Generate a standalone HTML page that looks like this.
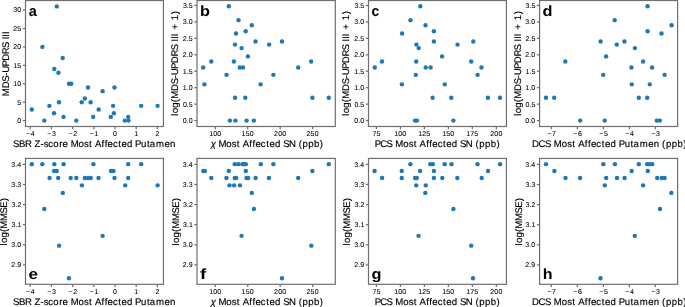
<!DOCTYPE html><html><head><meta charset="utf-8"><style>html,body{margin:0;padding:0;background:#fff;}svg{display:block;will-change:transform;}text{font-family:"Liberation Sans",sans-serif;text-rendering:geometricPrecision;}.tk{stroke:#000;stroke-width:0.08px;}.lb{stroke:#000;stroke-width:0.15px;}</style></head><body>
<svg width="685" height="307" viewBox="0 0 685 307">
<rect width="685" height="307" fill="#fff"/>
<g fill="#1f77b4">
<circle cx="56.80" cy="6.40" r="2.2"/>
<circle cx="42.40" cy="46.92" r="2.2"/>
<circle cx="62.70" cy="57.97" r="2.2"/>
<circle cx="54.30" cy="69.02" r="2.2"/>
<circle cx="58.40" cy="72.71" r="2.2"/>
<circle cx="69.00" cy="83.76" r="2.2"/>
<circle cx="71.20" cy="83.76" r="2.2"/>
<circle cx="88.00" cy="87.44" r="2.2"/>
<circle cx="114.50" cy="87.44" r="2.2"/>
<circle cx="102.60" cy="91.13" r="2.2"/>
<circle cx="84.90" cy="98.50" r="2.2"/>
<circle cx="59.00" cy="102.18" r="2.2"/>
<circle cx="81.70" cy="102.18" r="2.2"/>
<circle cx="90.60" cy="102.18" r="2.2"/>
<circle cx="49.40" cy="105.86" r="2.2"/>
<circle cx="113.10" cy="105.86" r="2.2"/>
<circle cx="141.20" cy="105.86" r="2.2"/>
<circle cx="157.60" cy="105.86" r="2.2"/>
<circle cx="31.80" cy="109.55" r="2.2"/>
<circle cx="98.70" cy="109.55" r="2.2"/>
<circle cx="54.00" cy="113.23" r="2.2"/>
<circle cx="113.90" cy="113.23" r="2.2"/>
<circle cx="63.50" cy="116.92" r="2.2"/>
<circle cx="93.20" cy="116.92" r="2.2"/>
<circle cx="110.80" cy="116.92" r="2.2"/>
<circle cx="128.20" cy="116.92" r="2.2"/>
<circle cx="44.30" cy="120.60" r="2.2"/>
<circle cx="76.30" cy="120.60" r="2.2"/>
<circle cx="124.80" cy="120.60" r="2.2"/>
<circle cx="128.50" cy="120.60" r="2.2"/>
<circle cx="228.80" cy="6.23" r="2.2"/>
<circle cx="238.50" cy="20.13" r="2.2"/>
<circle cx="251.80" cy="25.22" r="2.2"/>
<circle cx="245.70" cy="31.23" r="2.2"/>
<circle cx="236.00" cy="33.51" r="2.2"/>
<circle cx="255.50" cy="41.47" r="2.2"/>
<circle cx="282.00" cy="41.47" r="2.2"/>
<circle cx="235.00" cy="44.61" r="2.2"/>
<circle cx="269.10" cy="44.61" r="2.2"/>
<circle cx="241.60" cy="48.09" r="2.2"/>
<circle cx="247.90" cy="56.38" r="2.2"/>
<circle cx="211.30" cy="61.47" r="2.2"/>
<circle cx="233.90" cy="61.47" r="2.2"/>
<circle cx="311.10" cy="61.47" r="2.2"/>
<circle cx="203.20" cy="67.49" r="2.2"/>
<circle cx="239.80" cy="67.49" r="2.2"/>
<circle cx="243.00" cy="67.49" r="2.2"/>
<circle cx="298.20" cy="67.49" r="2.2"/>
<circle cx="226.50" cy="74.85" r="2.2"/>
<circle cx="273.40" cy="74.85" r="2.2"/>
<circle cx="204.40" cy="84.35" r="2.2"/>
<circle cx="260.60" cy="84.35" r="2.2"/>
<circle cx="235.10" cy="97.73" r="2.2"/>
<circle cx="245.30" cy="97.73" r="2.2"/>
<circle cx="312.40" cy="97.73" r="2.2"/>
<circle cx="328.80" cy="97.73" r="2.2"/>
<circle cx="229.90" cy="120.60" r="2.2"/>
<circle cx="235.40" cy="120.60" r="2.2"/>
<circle cx="246.60" cy="120.60" r="2.2"/>
<circle cx="253.90" cy="120.60" r="2.2"/>
<circle cx="420.30" cy="6.23" r="2.2"/>
<circle cx="410.50" cy="20.13" r="2.2"/>
<circle cx="425.50" cy="25.22" r="2.2"/>
<circle cx="433.90" cy="31.23" r="2.2"/>
<circle cx="402.10" cy="33.51" r="2.2"/>
<circle cx="433.90" cy="41.47" r="2.2"/>
<circle cx="473.30" cy="41.47" r="2.2"/>
<circle cx="416.40" cy="44.61" r="2.2"/>
<circle cx="457.50" cy="44.61" r="2.2"/>
<circle cx="418.70" cy="48.09" r="2.2"/>
<circle cx="442.10" cy="56.38" r="2.2"/>
<circle cx="382.00" cy="61.47" r="2.2"/>
<circle cx="416.20" cy="61.47" r="2.2"/>
<circle cx="471.20" cy="61.47" r="2.2"/>
<circle cx="374.80" cy="67.49" r="2.2"/>
<circle cx="425.70" cy="67.49" r="2.2"/>
<circle cx="430.60" cy="67.49" r="2.2"/>
<circle cx="481.50" cy="67.49" r="2.2"/>
<circle cx="415.80" cy="74.85" r="2.2"/>
<circle cx="477.60" cy="74.85" r="2.2"/>
<circle cx="401.90" cy="84.35" r="2.2"/>
<circle cx="444.80" cy="84.35" r="2.2"/>
<circle cx="432.60" cy="97.73" r="2.2"/>
<circle cx="451.30" cy="97.73" r="2.2"/>
<circle cx="487.90" cy="97.73" r="2.2"/>
<circle cx="500.00" cy="97.73" r="2.2"/>
<circle cx="415.10" cy="120.60" r="2.2"/>
<circle cx="416.90" cy="120.60" r="2.2"/>
<circle cx="453.40" cy="120.60" r="2.2"/>
<circle cx="647.60" cy="6.23" r="2.2"/>
<circle cx="614.70" cy="20.13" r="2.2"/>
<circle cx="671.60" cy="25.22" r="2.2"/>
<circle cx="647.60" cy="31.23" r="2.2"/>
<circle cx="661.50" cy="33.51" r="2.2"/>
<circle cx="600.60" cy="41.47" r="2.2"/>
<circle cx="624.40" cy="41.47" r="2.2"/>
<circle cx="616.80" cy="44.61" r="2.2"/>
<circle cx="634.90" cy="48.09" r="2.2"/>
<circle cx="606.10" cy="56.38" r="2.2"/>
<circle cx="565.30" cy="61.47" r="2.2"/>
<circle cx="643.10" cy="61.47" r="2.2"/>
<circle cx="631.40" cy="67.49" r="2.2"/>
<circle cx="652.10" cy="67.49" r="2.2"/>
<circle cx="603.20" cy="74.85" r="2.2"/>
<circle cx="664.60" cy="74.85" r="2.2"/>
<circle cx="631.80" cy="84.35" r="2.2"/>
<circle cx="649.80" cy="84.35" r="2.2"/>
<circle cx="546.00" cy="97.73" r="2.2"/>
<circle cx="554.20" cy="97.73" r="2.2"/>
<circle cx="638.80" cy="97.73" r="2.2"/>
<circle cx="647.20" cy="97.73" r="2.2"/>
<circle cx="580.20" cy="120.60" r="2.2"/>
<circle cx="604.70" cy="120.60" r="2.2"/>
<circle cx="656.80" cy="120.60" r="2.2"/>
<circle cx="659.90" cy="120.60" r="2.2"/>
<circle cx="31.80" cy="164.16" r="2.2"/>
<circle cx="42.30" cy="164.16" r="2.2"/>
<circle cx="54.30" cy="164.16" r="2.2"/>
<circle cx="63.60" cy="164.16" r="2.2"/>
<circle cx="93.40" cy="164.16" r="2.2"/>
<circle cx="128.20" cy="164.16" r="2.2"/>
<circle cx="141.20" cy="164.16" r="2.2"/>
<circle cx="54.10" cy="170.97" r="2.2"/>
<circle cx="56.70" cy="170.97" r="2.2"/>
<circle cx="111.00" cy="170.97" r="2.2"/>
<circle cx="113.50" cy="170.97" r="2.2"/>
<circle cx="49.60" cy="178.03" r="2.2"/>
<circle cx="58.20" cy="178.03" r="2.2"/>
<circle cx="70.70" cy="178.03" r="2.2"/>
<circle cx="76.30" cy="178.03" r="2.2"/>
<circle cx="84.80" cy="178.03" r="2.2"/>
<circle cx="88.00" cy="178.03" r="2.2"/>
<circle cx="90.80" cy="178.03" r="2.2"/>
<circle cx="98.50" cy="178.03" r="2.2"/>
<circle cx="114.50" cy="178.03" r="2.2"/>
<circle cx="128.20" cy="178.03" r="2.2"/>
<circle cx="81.90" cy="185.34" r="2.2"/>
<circle cx="125.20" cy="185.34" r="2.2"/>
<circle cx="157.60" cy="185.34" r="2.2"/>
<circle cx="62.80" cy="192.92" r="2.2"/>
<circle cx="44.30" cy="209.01" r="2.2"/>
<circle cx="102.60" cy="235.85" r="2.2"/>
<circle cx="59.10" cy="245.66" r="2.2"/>
<circle cx="68.90" cy="278.32" r="2.2"/>
<circle cx="234.75" cy="164.16" r="2.2"/>
<circle cx="238.30" cy="164.16" r="2.2"/>
<circle cx="242.40" cy="164.16" r="2.2"/>
<circle cx="244.00" cy="164.16" r="2.2"/>
<circle cx="245.80" cy="164.16" r="2.2"/>
<circle cx="260.80" cy="164.16" r="2.2"/>
<circle cx="273.40" cy="164.16" r="2.2"/>
<circle cx="328.80" cy="164.16" r="2.2"/>
<circle cx="203.30" cy="170.97" r="2.2"/>
<circle cx="204.90" cy="170.97" r="2.2"/>
<circle cx="228.80" cy="170.97" r="2.2"/>
<circle cx="245.80" cy="170.97" r="2.2"/>
<circle cx="312.40" cy="170.97" r="2.2"/>
<circle cx="211.30" cy="178.03" r="2.2"/>
<circle cx="226.40" cy="178.03" r="2.2"/>
<circle cx="234.75" cy="178.03" r="2.2"/>
<circle cx="236.10" cy="178.03" r="2.2"/>
<circle cx="246.50" cy="178.03" r="2.2"/>
<circle cx="248.10" cy="178.03" r="2.2"/>
<circle cx="255.60" cy="178.03" r="2.2"/>
<circle cx="268.90" cy="178.03" r="2.2"/>
<circle cx="298.20" cy="178.03" r="2.2"/>
<circle cx="229.50" cy="185.34" r="2.2"/>
<circle cx="234.10" cy="185.34" r="2.2"/>
<circle cx="240.00" cy="185.34" r="2.2"/>
<circle cx="251.80" cy="192.92" r="2.2"/>
<circle cx="253.90" cy="209.01" r="2.2"/>
<circle cx="241.60" cy="235.85" r="2.2"/>
<circle cx="311.30" cy="245.66" r="2.2"/>
<circle cx="282.00" cy="278.32" r="2.2"/>
<circle cx="410.40" cy="164.16" r="2.2"/>
<circle cx="430.30" cy="164.16" r="2.2"/>
<circle cx="432.80" cy="164.16" r="2.2"/>
<circle cx="444.70" cy="164.16" r="2.2"/>
<circle cx="451.50" cy="164.16" r="2.2"/>
<circle cx="477.50" cy="164.16" r="2.2"/>
<circle cx="500.10" cy="164.16" r="2.2"/>
<circle cx="374.60" cy="170.97" r="2.2"/>
<circle cx="401.75" cy="170.97" r="2.2"/>
<circle cx="420.10" cy="170.97" r="2.2"/>
<circle cx="433.90" cy="170.97" r="2.2"/>
<circle cx="488.00" cy="170.97" r="2.2"/>
<circle cx="382.10" cy="178.03" r="2.2"/>
<circle cx="401.75" cy="178.03" r="2.2"/>
<circle cx="415.10" cy="178.03" r="2.2"/>
<circle cx="416.75" cy="178.03" r="2.2"/>
<circle cx="433.90" cy="178.03" r="2.2"/>
<circle cx="442.30" cy="178.03" r="2.2"/>
<circle cx="457.30" cy="178.03" r="2.2"/>
<circle cx="481.70" cy="178.03" r="2.2"/>
<circle cx="416.20" cy="185.34" r="2.2"/>
<circle cx="425.80" cy="185.34" r="2.2"/>
<circle cx="425.30" cy="192.92" r="2.2"/>
<circle cx="453.40" cy="209.01" r="2.2"/>
<circle cx="418.50" cy="235.85" r="2.2"/>
<circle cx="471.20" cy="245.66" r="2.2"/>
<circle cx="473.00" cy="278.32" r="2.2"/>
<circle cx="546.00" cy="164.16" r="2.2"/>
<circle cx="603.30" cy="164.16" r="2.2"/>
<circle cx="614.90" cy="164.16" r="2.2"/>
<circle cx="638.80" cy="164.16" r="2.2"/>
<circle cx="647.20" cy="164.16" r="2.2"/>
<circle cx="649.60" cy="164.16" r="2.2"/>
<circle cx="652.20" cy="164.16" r="2.2"/>
<circle cx="554.40" cy="170.97" r="2.2"/>
<circle cx="631.70" cy="170.97" r="2.2"/>
<circle cx="647.80" cy="170.97" r="2.2"/>
<circle cx="565.50" cy="178.03" r="2.2"/>
<circle cx="580.10" cy="178.03" r="2.2"/>
<circle cx="606.20" cy="178.03" r="2.2"/>
<circle cx="617.00" cy="178.03" r="2.2"/>
<circle cx="624.60" cy="178.03" r="2.2"/>
<circle cx="657.20" cy="178.03" r="2.2"/>
<circle cx="661.70" cy="178.03" r="2.2"/>
<circle cx="664.60" cy="178.03" r="2.2"/>
<circle cx="604.80" cy="185.34" r="2.2"/>
<circle cx="643.10" cy="185.34" r="2.2"/>
<circle cx="671.30" cy="192.92" r="2.2"/>
<circle cx="660.00" cy="209.01" r="2.2"/>
<circle cx="634.80" cy="235.85" r="2.2"/>
<circle cx="600.50" cy="278.32" r="2.2"/>
</g>
<rect x="25.5" y="0.5" width="137.95" height="126.00" fill="none" stroke="#6e6e6e" stroke-width="1.2"/>
<line x1="30.20" y1="126.5" x2="30.20" y2="129.2" stroke="#6e6e6e" stroke-width="1.2"/>
<text x="25.99 30.74" y="135.90" font-size="7.0" class="tk">−4</text>
<line x1="51.40" y1="126.5" x2="51.40" y2="129.2" stroke="#6e6e6e" stroke-width="1.2"/>
<text x="47.27 52.02" y="135.90" font-size="7.0" class="tk">−3</text>
<line x1="72.60" y1="126.5" x2="72.60" y2="129.2" stroke="#6e6e6e" stroke-width="1.2"/>
<text x="68.53 73.19" y="135.90" font-size="7.0" class="tk">−2</text>
<line x1="93.80" y1="126.5" x2="93.80" y2="129.2" stroke="#6e6e6e" stroke-width="1.2"/>
<text x="89.71 94.41" y="135.90" font-size="7.0" class="tk">−1</text>
<line x1="115.00" y1="126.5" x2="115.00" y2="129.2" stroke="#6e6e6e" stroke-width="1.2"/>
<text x="113.05" y="135.90" font-size="7.0" class="tk">0</text>
<line x1="136.20" y1="126.5" x2="136.20" y2="129.2" stroke="#6e6e6e" stroke-width="1.2"/>
<text x="134.16" y="135.90" font-size="7.0" class="tk">1</text>
<line x1="157.40" y1="126.5" x2="157.40" y2="129.2" stroke="#6e6e6e" stroke-width="1.2"/>
<text x="155.45" y="135.90" font-size="7.0" class="tk">2</text>
<line x1="22.8" y1="120.60" x2="25.5" y2="120.60" stroke="#6e6e6e" stroke-width="1.2"/>
<text x="17.27" y="123.01" font-size="7.0" class="tk">0</text>
<line x1="22.8" y1="102.18" x2="25.5" y2="102.18" stroke="#6e6e6e" stroke-width="1.2"/>
<text x="17.37" y="104.59" font-size="7.0" class="tk">5</text>
<line x1="22.8" y1="83.76" x2="25.5" y2="83.76" stroke="#6e6e6e" stroke-width="1.2"/>
<text x="13.22 17.27" y="86.17" font-size="7.0" class="tk">10</text>
<line x1="22.8" y1="65.34" x2="25.5" y2="65.34" stroke="#6e6e6e" stroke-width="1.2"/>
<text x="13.35 17.37" y="67.75" font-size="7.0" class="tk">15</text>
<line x1="22.8" y1="46.92" x2="25.5" y2="46.92" stroke="#6e6e6e" stroke-width="1.2"/>
<text x="13.17 17.27" y="49.33" font-size="7.0" class="tk">20</text>
<line x1="22.8" y1="28.50" x2="25.5" y2="28.50" stroke="#6e6e6e" stroke-width="1.2"/>
<text x="13.31 17.37" y="30.91" font-size="7.0" class="tk">25</text>
<line x1="22.8" y1="10.08" x2="25.5" y2="10.08" stroke="#6e6e6e" stroke-width="1.2"/>
<text x="13.27 17.27" y="12.49" font-size="7.0" class="tk">30</text>
<text x="13.10 18.95 25.03 31.56 34.45 40.47 43.68 48.30 53.35 59.17 62.54 68.04 70.67 78.60 84.00 89.07 92.28 94.89 101.52 104.67 107.57 112.94 118.30 121.52 127.05 132.71 135.11 141.02 146.94 149.79 155.93 164.38 169.97" y="146.60" font-size="9.6" class="lb">SBR Z-score Most Affected Putamen</text>
<text transform="translate(29.10,16.30) scale(0.988,1)" x="-0.43" y="0" font-size="14.7" font-weight="bold">a</text>
<rect x="197.0" y="0.5" width="138.30" height="126.00" fill="none" stroke="#6e6e6e" stroke-width="1.2"/>
<line x1="215.30" y1="126.5" x2="215.30" y2="129.2" stroke="#6e6e6e" stroke-width="1.2"/>
<text x="209.17 213.22 217.22" y="135.90" font-size="7.0" class="tk">100</text>
<line x1="247.74" y1="126.5" x2="247.74" y2="129.2" stroke="#6e6e6e" stroke-width="1.2"/>
<text x="241.60 245.63 249.66" y="135.90" font-size="7.0" class="tk">150</text>
<line x1="280.17" y1="126.5" x2="280.17" y2="129.2" stroke="#6e6e6e" stroke-width="1.2"/>
<text x="274.11 278.20 282.21" y="135.90" font-size="7.0" class="tk">200</text>
<line x1="312.61" y1="126.5" x2="312.61" y2="129.2" stroke="#6e6e6e" stroke-width="1.2"/>
<text x="306.54 310.61 314.64" y="135.90" font-size="7.0" class="tk">250</text>
<line x1="194.3" y1="120.60" x2="197.0" y2="120.60" stroke="#6e6e6e" stroke-width="1.2"/>
<text x="182.76 186.73 188.77" y="123.01" font-size="7.0" class="tk">0.0</text>
<line x1="194.3" y1="104.15" x2="197.0" y2="104.15" stroke="#6e6e6e" stroke-width="1.2"/>
<text x="182.89 186.87 188.87" y="106.56" font-size="7.0" class="tk">0.5</text>
<line x1="194.3" y1="87.70" x2="197.0" y2="87.70" stroke="#6e6e6e" stroke-width="1.2"/>
<text x="182.72 186.73 188.77" y="90.11" font-size="7.0" class="tk">1.0</text>
<line x1="194.3" y1="71.25" x2="197.0" y2="71.25" stroke="#6e6e6e" stroke-width="1.2"/>
<text x="182.85 186.87 188.87" y="73.66" font-size="7.0" class="tk">1.5</text>
<line x1="194.3" y1="54.80" x2="197.0" y2="54.80" stroke="#6e6e6e" stroke-width="1.2"/>
<text x="182.67 186.73 188.77" y="57.21" font-size="7.0" class="tk">2.0</text>
<line x1="194.3" y1="38.35" x2="197.0" y2="38.35" stroke="#6e6e6e" stroke-width="1.2"/>
<text x="182.80 186.87 188.87" y="40.76" font-size="7.0" class="tk">2.5</text>
<line x1="194.3" y1="21.90" x2="197.0" y2="21.90" stroke="#6e6e6e" stroke-width="1.2"/>
<text x="182.77 186.73 188.77" y="24.31" font-size="7.0" class="tk">3.0</text>
<line x1="194.3" y1="5.45" x2="197.0" y2="5.45" stroke="#6e6e6e" stroke-width="1.2"/>
<text x="182.90 186.87 188.87" y="7.86" font-size="7.0" class="tk">3.5</text>
<text x="210.70 215.73 218.38 226.34 231.77 236.85 240.07 242.71 249.35 252.52 255.43 260.82 266.20 269.44 274.99 280.66 283.13 289.03 295.96 298.64 302.47 308.18 313.89 319.76" y="146.60" font-size="9.6" class="lb"><tspan font-style="italic">χ</tspan> Most Affected SN (ppb)</text>
<text transform="translate(201.18,16.30) scale(1.109,1)" x="-0.97" y="0" font-size="14.7" font-weight="bold">b</text>
<rect x="368.5" y="0.5" width="137.95" height="126.00" fill="none" stroke="#6e6e6e" stroke-width="1.2"/>
<line x1="376.40" y1="126.5" x2="376.40" y2="129.2" stroke="#6e6e6e" stroke-width="1.2"/>
<text x="372.45 376.45" y="135.90" font-size="7.0" class="tk">75</text>
<line x1="400.39" y1="126.5" x2="400.39" y2="129.2" stroke="#6e6e6e" stroke-width="1.2"/>
<text x="394.26 398.30 402.31" y="135.90" font-size="7.0" class="tk">100</text>
<line x1="424.38" y1="126.5" x2="424.38" y2="129.2" stroke="#6e6e6e" stroke-width="1.2"/>
<text x="418.31 422.27 426.34" y="135.90" font-size="7.0" class="tk">125</text>
<line x1="448.36" y1="126.5" x2="448.36" y2="129.2" stroke="#6e6e6e" stroke-width="1.2"/>
<text x="442.23 446.25 450.29" y="135.90" font-size="7.0" class="tk">150</text>
<line x1="472.35" y1="126.5" x2="472.35" y2="129.2" stroke="#6e6e6e" stroke-width="1.2"/>
<text x="466.28 470.32 474.32" y="135.90" font-size="7.0" class="tk">175</text>
<line x1="496.34" y1="126.5" x2="496.34" y2="129.2" stroke="#6e6e6e" stroke-width="1.2"/>
<text x="490.28 494.37 498.38" y="135.90" font-size="7.0" class="tk">200</text>
<line x1="365.8" y1="120.60" x2="368.5" y2="120.60" stroke="#6e6e6e" stroke-width="1.2"/>
<text x="354.26 358.23 360.27" y="123.01" font-size="7.0" class="tk">0.0</text>
<line x1="365.8" y1="104.15" x2="368.5" y2="104.15" stroke="#6e6e6e" stroke-width="1.2"/>
<text x="354.39 358.37 360.37" y="106.56" font-size="7.0" class="tk">0.5</text>
<line x1="365.8" y1="87.70" x2="368.5" y2="87.70" stroke="#6e6e6e" stroke-width="1.2"/>
<text x="354.22 358.23 360.27" y="90.11" font-size="7.0" class="tk">1.0</text>
<line x1="365.8" y1="71.25" x2="368.5" y2="71.25" stroke="#6e6e6e" stroke-width="1.2"/>
<text x="354.35 358.37 360.37" y="73.66" font-size="7.0" class="tk">1.5</text>
<line x1="365.8" y1="54.80" x2="368.5" y2="54.80" stroke="#6e6e6e" stroke-width="1.2"/>
<text x="354.17 358.23 360.27" y="57.21" font-size="7.0" class="tk">2.0</text>
<line x1="365.8" y1="38.35" x2="368.5" y2="38.35" stroke="#6e6e6e" stroke-width="1.2"/>
<text x="354.30 358.37 360.37" y="40.76" font-size="7.0" class="tk">2.5</text>
<line x1="365.8" y1="21.90" x2="368.5" y2="21.90" stroke="#6e6e6e" stroke-width="1.2"/>
<text x="354.27 358.23 360.27" y="24.31" font-size="7.0" class="tk">3.0</text>
<line x1="365.8" y1="5.45" x2="368.5" y2="5.45" stroke="#6e6e6e" stroke-width="1.2"/>
<text x="354.40 358.37 360.37" y="7.86" font-size="7.0" class="tk">3.5</text>
<text x="374.77 380.16 386.51 392.61 395.26 403.21 408.64 413.72 416.93 419.56 426.20 429.37 432.28 437.66 443.05 446.28 451.83 457.50 459.96 465.86 472.78 475.46 479.29 484.99 490.70 496.56" y="146.60" font-size="9.6" class="lb">PCS Most Affected SN (ppb)</text>
<text transform="translate(372.10,16.30) scale(0.943,1)" x="-0.57" y="0" font-size="14.7" font-weight="bold">c</text>
<rect x="539.6" y="0.5" width="138.00" height="126.00" fill="none" stroke="#6e6e6e" stroke-width="1.2"/>
<line x1="551.40" y1="126.5" x2="551.40" y2="129.2" stroke="#6e6e6e" stroke-width="1.2"/>
<text x="547.29 552.01" y="135.90" font-size="7.0" class="tk">−7</text>
<line x1="577.40" y1="126.5" x2="577.40" y2="129.2" stroke="#6e6e6e" stroke-width="1.2"/>
<text x="573.21 577.96" y="135.90" font-size="7.0" class="tk">−6</text>
<line x1="603.40" y1="126.5" x2="603.40" y2="129.2" stroke="#6e6e6e" stroke-width="1.2"/>
<text x="599.29 604.01" y="135.90" font-size="7.0" class="tk">−5</text>
<line x1="629.40" y1="126.5" x2="629.40" y2="129.2" stroke="#6e6e6e" stroke-width="1.2"/>
<text x="625.19 629.94" y="135.90" font-size="7.0" class="tk">−4</text>
<line x1="655.40" y1="126.5" x2="655.40" y2="129.2" stroke="#6e6e6e" stroke-width="1.2"/>
<text x="651.27 656.02" y="135.90" font-size="7.0" class="tk">−3</text>
<line x1="536.9" y1="120.60" x2="539.6" y2="120.60" stroke="#6e6e6e" stroke-width="1.2"/>
<text x="525.36 529.33 531.37" y="123.01" font-size="7.0" class="tk">0.0</text>
<line x1="536.9" y1="104.15" x2="539.6" y2="104.15" stroke="#6e6e6e" stroke-width="1.2"/>
<text x="525.49 529.47 531.47" y="106.56" font-size="7.0" class="tk">0.5</text>
<line x1="536.9" y1="87.70" x2="539.6" y2="87.70" stroke="#6e6e6e" stroke-width="1.2"/>
<text x="525.32 529.33 531.37" y="90.11" font-size="7.0" class="tk">1.0</text>
<line x1="536.9" y1="71.25" x2="539.6" y2="71.25" stroke="#6e6e6e" stroke-width="1.2"/>
<text x="525.45 529.47 531.47" y="73.66" font-size="7.0" class="tk">1.5</text>
<line x1="536.9" y1="54.80" x2="539.6" y2="54.80" stroke="#6e6e6e" stroke-width="1.2"/>
<text x="525.27 529.33 531.37" y="57.21" font-size="7.0" class="tk">2.0</text>
<line x1="536.9" y1="38.35" x2="539.6" y2="38.35" stroke="#6e6e6e" stroke-width="1.2"/>
<text x="525.40 529.47 531.47" y="40.76" font-size="7.0" class="tk">2.5</text>
<line x1="536.9" y1="21.90" x2="539.6" y2="21.90" stroke="#6e6e6e" stroke-width="1.2"/>
<text x="525.37 529.33 531.37" y="24.31" font-size="7.0" class="tk">3.0</text>
<line x1="536.9" y1="5.45" x2="539.6" y2="5.45" stroke="#6e6e6e" stroke-width="1.2"/>
<text x="525.50 529.47 531.47" y="7.86" font-size="7.0" class="tk">3.5</text>
<text x="532.03 538.60 544.98 551.10 553.76 561.75 567.19 572.29 575.52 578.17 584.83 588.01 590.94 596.34 601.74 604.99 610.56 616.25 618.69 624.63 630.59 633.47 639.67 648.17 653.81 659.42 662.10 665.96 671.69 677.41 683.30" y="146.60" font-size="9.6" class="lb">DCS Most Affected Putamen (ppb)</text>
<text transform="translate(543.23,16.30) scale(1.109,1)" x="-0.60" y="0" font-size="14.7" font-weight="bold">d</text>
<rect x="25.5" y="158.45" width="137.95" height="125.85" fill="none" stroke="#6e6e6e" stroke-width="1.2"/>
<line x1="30.20" y1="284.3" x2="30.20" y2="287.0" stroke="#6e6e6e" stroke-width="1.2"/>
<text x="25.99 30.74" y="293.85" font-size="7.0" class="tk">−4</text>
<line x1="51.40" y1="284.3" x2="51.40" y2="287.0" stroke="#6e6e6e" stroke-width="1.2"/>
<text x="47.27 52.02" y="293.85" font-size="7.0" class="tk">−3</text>
<line x1="72.60" y1="284.3" x2="72.60" y2="287.0" stroke="#6e6e6e" stroke-width="1.2"/>
<text x="68.53 73.19" y="293.85" font-size="7.0" class="tk">−2</text>
<line x1="93.80" y1="284.3" x2="93.80" y2="287.0" stroke="#6e6e6e" stroke-width="1.2"/>
<text x="89.71 94.41" y="293.85" font-size="7.0" class="tk">−1</text>
<line x1="115.00" y1="284.3" x2="115.00" y2="287.0" stroke="#6e6e6e" stroke-width="1.2"/>
<text x="113.05" y="293.85" font-size="7.0" class="tk">0</text>
<line x1="136.20" y1="284.3" x2="136.20" y2="287.0" stroke="#6e6e6e" stroke-width="1.2"/>
<text x="134.16" y="293.85" font-size="7.0" class="tk">1</text>
<line x1="157.40" y1="284.3" x2="157.40" y2="287.0" stroke="#6e6e6e" stroke-width="1.2"/>
<text x="155.45" y="293.85" font-size="7.0" class="tk">2</text>
<line x1="22.8" y1="264.90" x2="25.5" y2="264.90" stroke="#6e6e6e" stroke-width="1.2"/>
<text x="11.20 15.26 17.27" y="267.31" font-size="7.0" class="tk">2.9</text>
<line x1="22.8" y1="244.80" x2="25.5" y2="244.80" stroke="#6e6e6e" stroke-width="1.2"/>
<text x="11.27 15.23 17.27" y="247.21" font-size="7.0" class="tk">3.0</text>
<line x1="22.8" y1="224.70" x2="25.5" y2="224.70" stroke="#6e6e6e" stroke-width="1.2"/>
<text x="11.43 15.40 17.39" y="227.11" font-size="7.0" class="tk">3.1</text>
<line x1="22.8" y1="204.60" x2="25.5" y2="204.60" stroke="#6e6e6e" stroke-width="1.2"/>
<text x="11.48 15.45 17.40" y="207.01" font-size="7.0" class="tk">3.2</text>
<line x1="22.8" y1="184.50" x2="25.5" y2="184.50" stroke="#6e6e6e" stroke-width="1.2"/>
<text x="11.35 15.32 17.36" y="186.91" font-size="7.0" class="tk">3.3</text>
<line x1="22.8" y1="164.40" x2="25.5" y2="164.40" stroke="#6e6e6e" stroke-width="1.2"/>
<text x="11.20 15.17 17.20" y="166.81" font-size="7.0" class="tk">3.4</text>
<text x="13.10 18.95 25.03 31.56 34.45 40.47 43.68 48.30 53.35 59.17 62.54 68.04 70.67 78.60 84.00 89.07 92.28 94.89 101.52 104.67 107.57 112.94 118.30 121.52 127.05 132.71 135.11 141.02 146.94 149.79 155.93 164.38 169.97" y="304.60" font-size="9.6" class="lb">SBR Z-score Most Affected Putamen</text>
<text transform="translate(29.10,278.70) scale(1.158,1)" x="-0.57" y="0" font-size="14.7" font-weight="bold">e</text>
<rect x="197.0" y="158.45" width="138.30" height="125.85" fill="none" stroke="#6e6e6e" stroke-width="1.2"/>
<line x1="215.30" y1="284.3" x2="215.30" y2="287.0" stroke="#6e6e6e" stroke-width="1.2"/>
<text x="209.17 213.22 217.22" y="293.85" font-size="7.0" class="tk">100</text>
<line x1="247.74" y1="284.3" x2="247.74" y2="287.0" stroke="#6e6e6e" stroke-width="1.2"/>
<text x="241.60 245.63 249.66" y="293.85" font-size="7.0" class="tk">150</text>
<line x1="280.17" y1="284.3" x2="280.17" y2="287.0" stroke="#6e6e6e" stroke-width="1.2"/>
<text x="274.11 278.20 282.21" y="293.85" font-size="7.0" class="tk">200</text>
<line x1="312.61" y1="284.3" x2="312.61" y2="287.0" stroke="#6e6e6e" stroke-width="1.2"/>
<text x="306.54 310.61 314.64" y="293.85" font-size="7.0" class="tk">250</text>
<line x1="194.3" y1="264.90" x2="197.0" y2="264.90" stroke="#6e6e6e" stroke-width="1.2"/>
<text x="182.70 186.76 188.77" y="267.31" font-size="7.0" class="tk">2.9</text>
<line x1="194.3" y1="244.80" x2="197.0" y2="244.80" stroke="#6e6e6e" stroke-width="1.2"/>
<text x="182.77 186.73 188.77" y="247.21" font-size="7.0" class="tk">3.0</text>
<line x1="194.3" y1="224.70" x2="197.0" y2="224.70" stroke="#6e6e6e" stroke-width="1.2"/>
<text x="182.93 186.90 188.89" y="227.11" font-size="7.0" class="tk">3.1</text>
<line x1="194.3" y1="204.60" x2="197.0" y2="204.60" stroke="#6e6e6e" stroke-width="1.2"/>
<text x="182.98 186.95 188.90" y="207.01" font-size="7.0" class="tk">3.2</text>
<line x1="194.3" y1="184.50" x2="197.0" y2="184.50" stroke="#6e6e6e" stroke-width="1.2"/>
<text x="182.85 186.82 188.86" y="186.91" font-size="7.0" class="tk">3.3</text>
<line x1="194.3" y1="164.40" x2="197.0" y2="164.40" stroke="#6e6e6e" stroke-width="1.2"/>
<text x="182.70 186.67 188.70" y="166.81" font-size="7.0" class="tk">3.4</text>
<text x="210.70 215.73 218.38 226.34 231.77 236.85 240.07 242.71 249.35 252.52 255.43 260.82 266.20 269.44 274.99 280.66 283.13 289.03 295.96 298.64 302.47 308.18 313.89 319.76" y="304.60" font-size="9.6" class="lb"><tspan font-style="italic">χ</tspan> Most Affected SN (ppb)</text>
<text transform="translate(200.27,278.70) scale(1.273,1)" x="-0.25" y="0" font-size="14.7" font-weight="bold">f</text>
<rect x="368.5" y="158.45" width="137.95" height="125.85" fill="none" stroke="#6e6e6e" stroke-width="1.2"/>
<line x1="376.40" y1="284.3" x2="376.40" y2="287.0" stroke="#6e6e6e" stroke-width="1.2"/>
<text x="372.45 376.45" y="293.85" font-size="7.0" class="tk">75</text>
<line x1="400.39" y1="284.3" x2="400.39" y2="287.0" stroke="#6e6e6e" stroke-width="1.2"/>
<text x="394.26 398.30 402.31" y="293.85" font-size="7.0" class="tk">100</text>
<line x1="424.38" y1="284.3" x2="424.38" y2="287.0" stroke="#6e6e6e" stroke-width="1.2"/>
<text x="418.31 422.27 426.34" y="293.85" font-size="7.0" class="tk">125</text>
<line x1="448.36" y1="284.3" x2="448.36" y2="287.0" stroke="#6e6e6e" stroke-width="1.2"/>
<text x="442.23 446.25 450.29" y="293.85" font-size="7.0" class="tk">150</text>
<line x1="472.35" y1="284.3" x2="472.35" y2="287.0" stroke="#6e6e6e" stroke-width="1.2"/>
<text x="466.28 470.32 474.32" y="293.85" font-size="7.0" class="tk">175</text>
<line x1="496.34" y1="284.3" x2="496.34" y2="287.0" stroke="#6e6e6e" stroke-width="1.2"/>
<text x="490.28 494.37 498.38" y="293.85" font-size="7.0" class="tk">200</text>
<line x1="365.8" y1="264.90" x2="368.5" y2="264.90" stroke="#6e6e6e" stroke-width="1.2"/>
<text x="354.20 358.26 360.27" y="267.31" font-size="7.0" class="tk">2.9</text>
<line x1="365.8" y1="244.80" x2="368.5" y2="244.80" stroke="#6e6e6e" stroke-width="1.2"/>
<text x="354.27 358.23 360.27" y="247.21" font-size="7.0" class="tk">3.0</text>
<line x1="365.8" y1="224.70" x2="368.5" y2="224.70" stroke="#6e6e6e" stroke-width="1.2"/>
<text x="354.43 358.40 360.39" y="227.11" font-size="7.0" class="tk">3.1</text>
<line x1="365.8" y1="204.60" x2="368.5" y2="204.60" stroke="#6e6e6e" stroke-width="1.2"/>
<text x="354.48 358.45 360.40" y="207.01" font-size="7.0" class="tk">3.2</text>
<line x1="365.8" y1="184.50" x2="368.5" y2="184.50" stroke="#6e6e6e" stroke-width="1.2"/>
<text x="354.35 358.32 360.36" y="186.91" font-size="7.0" class="tk">3.3</text>
<line x1="365.8" y1="164.40" x2="368.5" y2="164.40" stroke="#6e6e6e" stroke-width="1.2"/>
<text x="354.20 358.17 360.20" y="166.81" font-size="7.0" class="tk">3.4</text>
<text x="374.77 380.16 386.51 392.61 395.26 403.21 408.64 413.72 416.93 419.56 426.20 429.37 432.28 437.66 443.05 446.28 451.83 457.50 459.96 465.86 472.78 475.46 479.29 484.99 490.70 496.56" y="304.60" font-size="9.6" class="lb">PCS Most Affected SN (ppb)</text>
<text transform="translate(372.13,278.70) scale(1.112,1)" x="-0.60" y="0" font-size="14.7" font-weight="bold">g</text>
<rect x="539.6" y="158.45" width="138.00" height="125.85" fill="none" stroke="#6e6e6e" stroke-width="1.2"/>
<line x1="551.40" y1="284.3" x2="551.40" y2="287.0" stroke="#6e6e6e" stroke-width="1.2"/>
<text x="547.29 552.01" y="293.85" font-size="7.0" class="tk">−7</text>
<line x1="577.40" y1="284.3" x2="577.40" y2="287.0" stroke="#6e6e6e" stroke-width="1.2"/>
<text x="573.21 577.96" y="293.85" font-size="7.0" class="tk">−6</text>
<line x1="603.40" y1="284.3" x2="603.40" y2="287.0" stroke="#6e6e6e" stroke-width="1.2"/>
<text x="599.29 604.01" y="293.85" font-size="7.0" class="tk">−5</text>
<line x1="629.40" y1="284.3" x2="629.40" y2="287.0" stroke="#6e6e6e" stroke-width="1.2"/>
<text x="625.19 629.94" y="293.85" font-size="7.0" class="tk">−4</text>
<line x1="655.40" y1="284.3" x2="655.40" y2="287.0" stroke="#6e6e6e" stroke-width="1.2"/>
<text x="651.27 656.02" y="293.85" font-size="7.0" class="tk">−3</text>
<line x1="536.9" y1="264.90" x2="539.6" y2="264.90" stroke="#6e6e6e" stroke-width="1.2"/>
<text x="525.30 529.36 531.37" y="267.31" font-size="7.0" class="tk">2.9</text>
<line x1="536.9" y1="244.80" x2="539.6" y2="244.80" stroke="#6e6e6e" stroke-width="1.2"/>
<text x="525.37 529.33 531.37" y="247.21" font-size="7.0" class="tk">3.0</text>
<line x1="536.9" y1="224.70" x2="539.6" y2="224.70" stroke="#6e6e6e" stroke-width="1.2"/>
<text x="525.53 529.50 531.49" y="227.11" font-size="7.0" class="tk">3.1</text>
<line x1="536.9" y1="204.60" x2="539.6" y2="204.60" stroke="#6e6e6e" stroke-width="1.2"/>
<text x="525.58 529.55 531.50" y="207.01" font-size="7.0" class="tk">3.2</text>
<line x1="536.9" y1="184.50" x2="539.6" y2="184.50" stroke="#6e6e6e" stroke-width="1.2"/>
<text x="525.45 529.42 531.46" y="186.91" font-size="7.0" class="tk">3.3</text>
<line x1="536.9" y1="164.40" x2="539.6" y2="164.40" stroke="#6e6e6e" stroke-width="1.2"/>
<text x="525.30 529.27 531.30" y="166.81" font-size="7.0" class="tk">3.4</text>
<text x="532.03 538.60 544.98 551.10 553.76 561.75 567.19 572.29 575.52 578.17 584.83 588.01 590.94 596.34 601.74 604.99 610.56 616.25 618.69 624.63 630.59 633.47 639.67 648.17 653.81 659.42 662.10 665.96 671.69 677.41 683.30" y="304.60" font-size="9.6" class="lb">DCS Most Affected Putamen (ppb)</text>
<text transform="translate(543.78,278.70) scale(1.094,1)" x="-1.03" y="0" font-size="14.7" font-weight="bold">h</text>
<text transform="translate(8.80,95.10) rotate(-90)" x="-1.04 6.76 13.30 19.28 22.26 28.60 34.30 40.93 47.02 53.07 55.79 58.41 61.03" y="0" font-size="9.6" class="lb">MDS-UPDRS III</text>
<text transform="translate(177.90,115.00) rotate(-90)" x="-0.67 1.72 7.25 12.73 16.19 24.05 30.65 36.67 39.70 46.09 51.85 58.54 64.68 70.77 73.51 76.16 78.80 81.55 85.26 91.91 94.80 100.77" y="0" font-size="9.6" class="lb">log(MDS-UPDRS III + 1)</text>
<text transform="translate(349.40,115.00) rotate(-90)" x="-0.67 1.72 7.25 12.73 16.19 24.05 30.65 36.67 39.70 46.09 51.85 58.54 64.68 70.77 73.51 76.16 78.80 81.55 85.26 91.91 94.80 100.77" y="0" font-size="9.6" class="lb">log(MDS-UPDRS III + 1)</text>
<text transform="translate(520.50,115.00) rotate(-90)" x="-0.67 1.72 7.25 12.73 16.19 24.05 30.65 36.67 39.70 46.09 51.85 58.54 64.68 70.77 73.51 76.16 78.80 81.55 85.26 91.91 94.80 100.77" y="0" font-size="9.6" class="lb">log(MDS-UPDRS III + 1)</text>
<text transform="translate(7.40,244.80) rotate(-90)" x="-0.67 1.71 7.24 12.71 16.16 23.88 31.43 37.01 43.47" y="0" font-size="9.6" class="lb">log(MMSE)</text>
<text transform="translate(178.90,244.80) rotate(-90)" x="-0.67 1.71 7.24 12.71 16.16 23.88 31.43 37.01 43.47" y="0" font-size="9.6" class="lb">log(MMSE)</text>
<text transform="translate(350.40,244.80) rotate(-90)" x="-0.67 1.71 7.24 12.71 16.16 23.88 31.43 37.01 43.47" y="0" font-size="9.6" class="lb">log(MMSE)</text>
<text transform="translate(521.50,244.80) rotate(-90)" x="-0.67 1.71 7.24 12.71 16.16 23.88 31.43 37.01 43.47" y="0" font-size="9.6" class="lb">log(MMSE)</text>
</svg></body></html>
